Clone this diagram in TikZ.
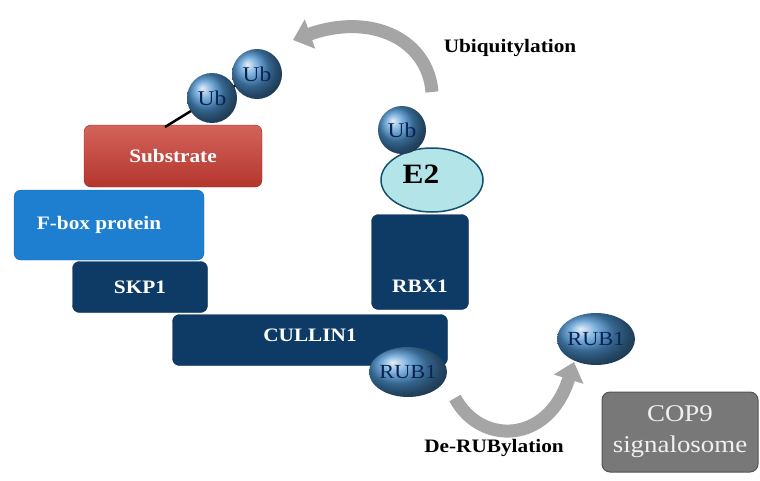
\documentclass[tikz,border=0pt]{standalone}
\usepackage{fontspec}
\setmainfont[FakeStretch=1.12]{Liberation Serif}
\usetikzlibrary{arrows.meta,shapes.geometric}
\definecolor{navy}{RGB}{14,58,102}
\definecolor{fbox}{RGB}{30,127,208}
\definecolor{subred}{RGB}{200,60,50}
\definecolor{ubtext}{RGB}{10,35,85}
\definecolor{copgray}{RGB}{120,120,120}
\definecolor{e2fill}{RGB}{178,228,232}
\definecolor{e2line}{RGB}{20,80,110}
\definecolor{arrgray}{RGB}{165,165,165}
\tikzset{
  x=1pt, y=-1pt,
  protbox/.style={rounded corners=7pt, minimum width=#1, inner sep=0pt, text=white, font=\bfseries\fontsize{19}{21}\selectfont},
  ubball/.style={circle, minimum size=#1, inner sep=-20pt, shading=ball, ball color={rgb,255:red,75;green,145;blue,205}, text=ubtext, font=\fontsize{21}{23}\selectfont},
  rubball/.style={ellipse, minimum width=78pt, minimum height=#1, inner sep=-20pt, shading=ball, ball color={rgb,255:red,75;green,145;blue,205}, text=ubtext, font=\fontsize{20}{22}\selectfont},
  bigarrow/.style={draw=arrgray, line width=13pt, -{Triangle[width=30pt,length=18pt]}},
  lbl/.style={font=\bfseries\fontsize{19}{21}\selectfont, text=black},
  link/.style={line width=2.5pt, black}
}
\begin{document}
\begin{tikzpicture}
\useasboundingbox (0,0) rectangle (760,480);
% boxes
\node[protbox=178pt, minimum height=62pt, top color=subred!80!white, bottom color=subred!90!black, draw=subred!70!black] (sub) at (173,156) {Substrate};
\node[protbox=190pt, minimum height=70pt, fill=fbox, draw=fbox!80!black] (fb) at (109,225) {\hspace*{-20pt}F-box protein};
\node[protbox=135pt, minimum height=51pt, fill=navy, draw=navy!80!black] (skp) at (140,287) {SKP1};
\node[protbox=275pt, minimum height=51pt, fill=navy, draw=navy!80!black, text depth=10pt] (cul) at (310,340) {CULLIN1};
\node[protbox=97pt, minimum height=95pt, fill=navy, draw=navy!80!black,
  label={[anchor=south, yshift=14pt, text=white, font=\bfseries\fontsize{19}{21}\selectfont]south:RBX1}] (rbx) at (420,262) {};
% E2 and Ub
\node[ellipse, minimum width=102pt, minimum height=64pt, fill=e2fill, draw=e2line, line width=1.5pt, inner sep=-20pt] (e2) at (432,180) {};
\node[font=\bfseries\fontsize{28}{30}\selectfont, inner sep=0pt] (e2t) at (421,174) {E2};
\node[ubball=48pt] (ube2) at (402,130) {Ub};
% Ub chain
\draw[link] (165,127) -- (212,98);
\draw[link] (212,98) -- (257,74);
\node[ubball=50pt] (ub2) at (257,74) {Ub};
\node[ubball=50pt] (ub1) at (212,98) {Ub};
% RUB1
\node[rubball=50pt] (rub) at (408,372) {RUB1};
\node[rubball=52pt] (rubf) at (596,339) {RUB1};
% COP9
\node[rounded corners=8pt, minimum width=156pt, minimum height=80pt, inner sep=0pt, fill=copgray, draw=copgray!70!black, line width=1pt, text=white!88!gray, align=center, font=\fontsize{24}{31}\selectfont] (cop) at (680,432) {COP9\\signalosome};
% arrows
\coordinate (ua1) at (432,92);
\coordinate (ua2) at (293,40);
\draw[bigarrow] (ua1) .. controls (428,40) and (372,12) .. (ua2);
\coordinate (da1) at (455,398);
\coordinate (da2) at (574,362);
\draw[bigarrow] (da1) .. controls (480,445) and (548,445) .. (da2);
% labels
\node[lbl] (ubiq) at (510,48) {Ubiquitylation};
\node[lbl] (derub) at (494,448) {De-RUBylation};
\end{tikzpicture}
\end{document}
